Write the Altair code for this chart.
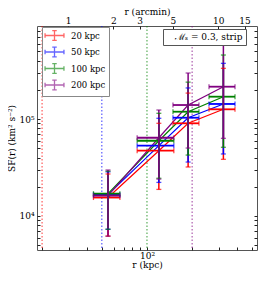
import altair as alt
import pandas as pd

FONT = "DejaVu Serif"

series = ["20 kpc", "50 kpc", "100 kpc", "200 kpc"]
colors = ["#ff0000", "#0000ff", "#008000", "#800080"]

# bin centres and bin edges (kpc)
r_kpc = [55, 120, 188, 323]
r_lo = [44, 86, 149, 259]
r_hi = [66, 151, 222, 386]

sf_20 = [15500, 47100, 90300, 125900]
sf_20_lo = [6200, 18800, 32000, 38400]
sf_20_hi = [27100, 90300, 185000, 333000]

sf_50 = [16600, 53100, 103100, 142900]
sf_50_lo = [7300, 22200, 36000, 43600]
sf_50_hi = [28500, 101700, 209000, 375000]

sf_100 = [17000, 59700, 118900, 169900]
sf_100_lo = [7300, 24500, 42500, 51100]
sf_100_hi = [29000, 114500, 240000, 457000]

sf_200 = [16200, 64100, 139400, 215400]
sf_200_lo = [6200, 24000, 50200, 63200]
sf_200_hi = [29800, 123800, 298000, 593000]

scale_radii = [20, 50, 100, 200]

kpc_ticks = [20, 30, 40, 50, 60, 70, 80, 90, 100, 200, 300, 400, 500]
arcmin_ticks = [1, 2, 3, 5, 10, 15]
sf_ticks = [5000, 6000, 7000, 8000, 9000, 10000, 20000, 30000, 40000, 50000,
            60000, 70000, 80000, 90000, 100000, 200000, 300000, 400000,
            500000, 600000, 700000, 800000]
kpc_per_arcmin = 29.8
x_domain = [18.5, 541]
y_domain = [4460, 910000]
note = "ℳₛ = 0.3, strip"

rows = []
for s, v, lo, hi in zip(series,
                        [sf_20, sf_50, sf_100, sf_200],
                        [sf_20_lo, sf_50_lo, sf_100_lo, sf_200_lo],
                        [sf_20_hi, sf_50_hi, sf_100_hi, sf_200_hi]):
    for i in range(len(r_kpc)):
        rows.append(dict(series=s, r=r_kpc[i], r_lo=r_lo[i], r_hi=r_hi[i],
                         sf=v[i], lo=lo[i], hi=hi[i]))
df = pd.DataFrame(rows)
df_v = pd.DataFrame({"series": series, "r": scale_radii})
df_top = pd.DataFrame({"arcmin": arcmin_ticks, "note": [note] * len(arcmin_ticks)})

xscale = alt.Scale(type="log", domain=x_domain, nice=False, padding=0)
yscale = alt.Scale(type="log", domain=y_domain, nice=False, padding=0)

x_axis = alt.Axis(orient="bottom", values=kpc_ticks, offset=-3, tickSize=3,
                  domain=False, grid=False, tickColor="#222",
                  labelExpr="datum.value == 100 ? '10²' : ''",
                  labelOverlap=False, labelFlush=False, labelPadding=1,
                  labelFont=FONT, labelFontSize=9, labelColor="black",
                  title="r (kpc)", titleFont=FONT, titleFontSize=9,
                  titleFontWeight="normal", titleColor="black", titlePadding=0)
y_axis = alt.Axis(orient="left", values=sf_ticks, offset=-3, tickSize=3,
                  domain=False, grid=False, tickColor="#222",
                  labelExpr="datum.value == 10000 ? '10⁴' : datum.value == 100000 ? '10⁵' : ''",
                  labelOverlap=False, labelFlush=False, labelPadding=3,
                  labelFont=FONT, labelFontSize=9, labelColor="black",
                  title="SF(r) (km² s⁻²)", titleFont=FONT, titleFontSize=9,
                  titleFontWeight="normal", titleColor="black", titlePadding=2)

legend_path = ("M-2.1,0H2.1M-2.1,-0.5V0.5M2.1,-0.5V0.5"
               "M0,-1.1V1.1M-0.5,-1.1H0.5M-0.5,1.1H0.5")
color = alt.Color("series:N", scale=alt.Scale(domain=series, range=colors),
                  legend=alt.Legend(title=None, orient="none", legendX=5, legendY=1,
                                    padding=3, strokeColor="#888", fillColor="white",
                                    cornerRadius=0, symbolType=legend_path,
                                    symbolSize=81, symbolStrokeWidth=1.3,
                                    symbolOffset=4,
                                    labelFont=FONT, labelFontSize=8.5,
                                    labelColor="black", labelOffset=11,
                                    rowPadding=-0.5))

X = alt.X("r:Q", scale=xscale, axis=x_axis)
Y = alt.Y("sf:Q", scale=yscale, axis=y_axis)

base = alt.Chart(df)

vlines = alt.Chart(df_v).mark_rule(strokeDash=[1.5, 2], opacity=0.6, strokeWidth=1.3).encode(
    x=X, color=color)
lines = base.mark_line(strokeWidth=1.2).encode(x=X, y=Y, color=color, detail="series:N")
hbars = base.mark_rule(strokeWidth=1.8).encode(
    x=alt.X("r_lo:Q", scale=xscale, axis=x_axis), x2="r_hi:Q", y=Y, color=color)
vbars = base.mark_rule(strokeWidth=1.5).encode(
    x=X, y=alt.Y("lo:Q", scale=yscale, axis=y_axis), y2="hi:Q", color=color)
cap_lo = base.mark_tick(orient="horizontal", size=5, thickness=1.3).encode(
    x=X, y=alt.Y("lo:Q", scale=yscale, axis=y_axis), color=color)
cap_hi = base.mark_tick(orient="horizontal", size=5, thickness=1.3).encode(
    x=X, y=alt.Y("hi:Q", scale=yscale, axis=y_axis), color=color)
cap_l = base.mark_tick(orient="vertical", size=5, thickness=1.3).encode(
    x=alt.X("r_lo:Q", scale=xscale, axis=x_axis), y=Y, color=color)
cap_r = base.mark_tick(orient="vertical", size=5, thickness=1.3).encode(
    x=alt.X("r_hi:Q", scale=xscale, axis=x_axis), y=Y, color=color)

main = alt.layer(vlines, lines, hbars, vbars, cap_lo, cap_hi, cap_l, cap_r)

top = alt.Chart(df_top).mark_point(opacity=0).encode(
    x=alt.X("arcmin:Q",
            scale=alt.Scale(type="log", nice=False, padding=0,
                            domain=[x_domain[0] / kpc_per_arcmin, x_domain[1] / kpc_per_arcmin]),
            axis=alt.Axis(orient="top", values=arcmin_ticks, offset=-3, tickSize=3,
                          domain=False, grid=False, tickColor="#222", format="~g",
                          labelOverlap=False, labelFlush=False, labelPadding=1,
                          labelFont=FONT, labelFontSize=9, labelColor="black",
                          title="r (arcmin)", titleFont=FONT, titleFontSize=9,
                          titleFontWeight="normal", titleColor="black", titlePadding=0)),
    y=alt.value(0),
    shape=alt.Shape("note:N", legend=alt.Legend(title=None, orient="none", legendX=126,
                                                 legendY=3, padding=3, strokeColor="#555",
                                                 fillColor="white", cornerRadius=0,
                                                 symbolSize=0, symbolOpacity=0,
                                                 labelOffset=0, labelFont=FONT,
                                                 labelFontSize=9, labelColor="black")),
)

right = alt.Chart(df).mark_point(opacity=0).encode(
    x=alt.value(0),
    y=alt.Y("sf:Q", scale=yscale,
            axis=alt.Axis(orient="right", values=sf_ticks, offset=-3, tickSize=3,
                          domain=False, grid=False, tickColor="#222", labels=False,
                          title=None)),
)

chart = alt.layer(main, top, right).resolve_scale(
    x="independent", y="independent"
).properties(
    width=220, height=224,
    autosize=alt.AutoSizeParams(type="none"),
    padding={"left": 29, "top": 18, "right": 1, "bottom": 22},
).configure_view(stroke="#555", strokeWidth=1)

chart.save("out.html", embed_options={"renderer": "svg", "actions": False})
